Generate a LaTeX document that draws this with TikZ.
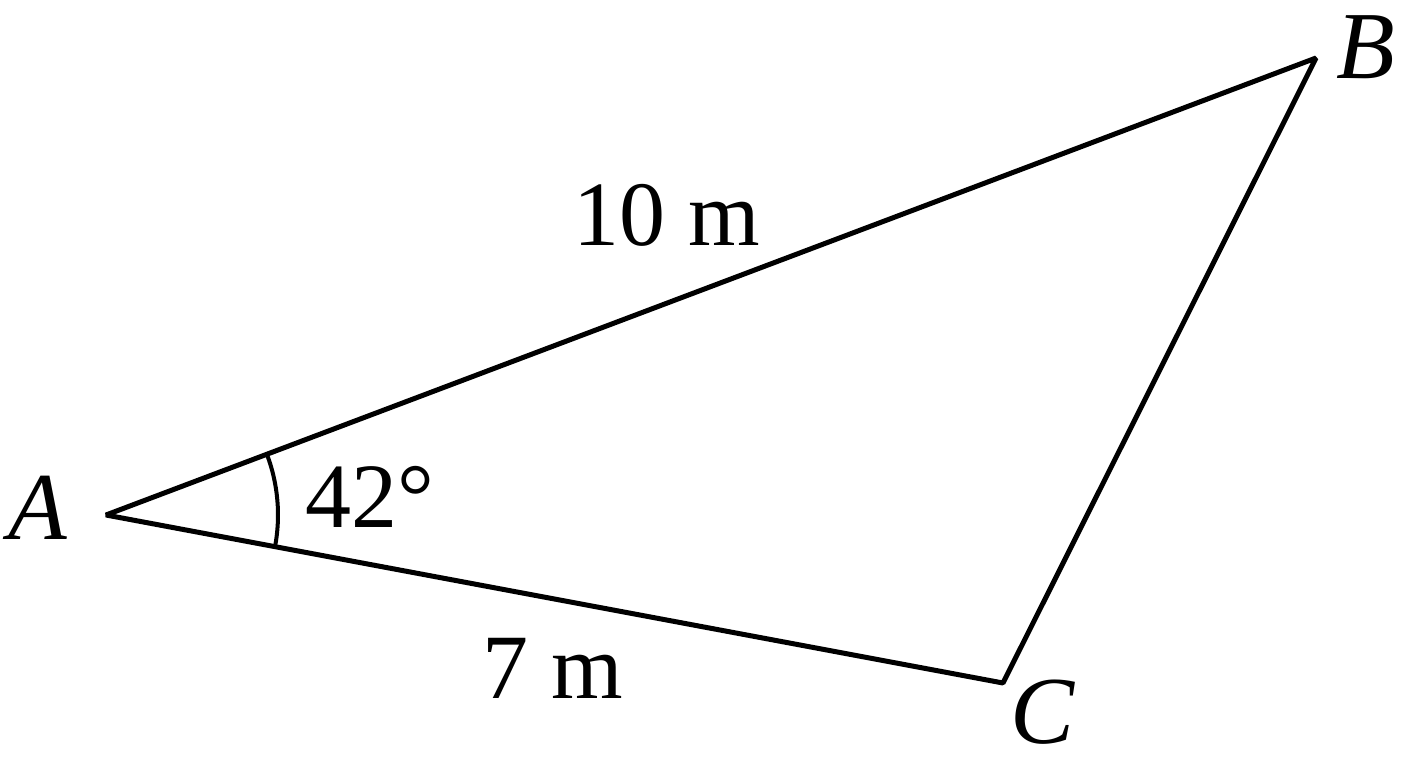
\documentclass[tikz,border=0pt]{standalone}
\usepackage{fontspec}
\setmainfont{Liberation Serif}
\usetikzlibrary{calc}
\begin{document}
\begin{tikzpicture}[x=1pt,y=-1pt,
  edge/.style={line width=5pt,line join=bevel},
  lbl/.style={inner sep=0pt,font=\fontsize{92}{100}\selectfont},
  vlbl/.style={inner sep=0pt,font=\fontsize{96}{106}\selectfont\itshape}]
\useasboundingbox (0,0) rectangle (1408,768);
\coordinate (A) at (106,515);
\coordinate (B) at (1316,58);
\coordinate (C) at (1003,683);
\draw[edge] (A) -- (B) -- (C) -- cycle;
\draw[line width=4pt] ($(A)+(-20.67:172)$) arc[start angle=-20.67,end angle=10.6,radius=172];
\node[vlbl] (la) at (38,508) {A};
\node[vlbl] (lb) at (1366,47) {B};
\node[vlbl] (lc) at (1043,712) {C};
\node[lbl] (lab) at (667,215) {10 m};
\node[lbl] (lac) at (553,668) {7 m};
\node[lbl] (lang) at (370,497) {42°};
\end{tikzpicture}
\end{document}
